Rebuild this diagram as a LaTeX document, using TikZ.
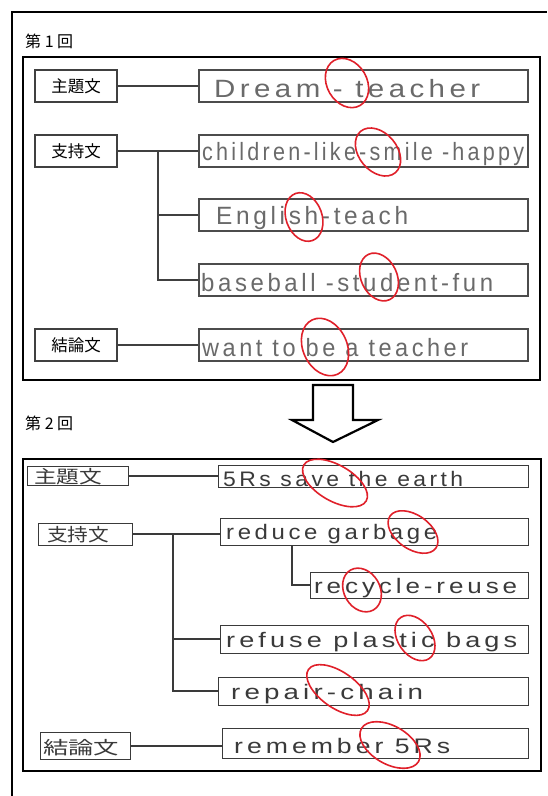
\documentclass[tikz,border=0pt]{standalone}
\usepackage{fontspec}
\usepackage{graphicx}
\newfontfamily\jp{Noto Sans CJK JP}
\newfontfamily\hand[LetterSpace=15]{Liberation Sans}
\newcommand\hw[2]{\resizebox{#1}{\height}{#2}}
\definecolor{penred}{HTML}{E0202A}
\definecolor{pencil}{HTML}{6A6A6A}
\definecolor{pen}{HTML}{3A3A3A}
\tikzset{
  frame/.style={draw=black,line width=2.6pt},
  labbox/.style={draw=black!75,line width=1.2pt,minimum width=82pt,minimum height=32pt,inner sep=0pt,font=\jp\fontsize{16.5}{16.5}\selectfont},
  conbox/.style={draw=black!70,line width=1.2pt,minimum width=329pt,minimum height=32pt,inner sep=0pt},
  hbox/.style={draw=pen,line width=1pt,inner sep=0pt},
  htext1/.style={anchor=west,inner sep=0pt,text=pencil,font=\hand\fontsize{25}{25}\selectfont},
  htext2/.style={anchor=west,inner sep=0pt,text=pen,font=\hand\fontsize{21}{21}\selectfont},
  hlab/.style={anchor=west,inner sep=0pt,text=pen,font=\jp\fontsize{18}{18}\selectfont},
  conn/.style={draw=black!75,line width=1.2pt},
  hconn/.style={draw=pen,line width=1.1pt},
  ring/.style={draw=penred,line width=1.6pt},
  heading/.style={anchor=west,inner sep=0pt,font=\jp\fontsize{16}{16}\selectfont}
}
\begin{document}
\begin{tikzpicture}[x=1pt,y=-1pt]
\useasboundingbox (0,0) rectangle (547,796);
\fill[white] (0,0) rectangle (547,796);
% outer frame (cut off)
\draw[line width=2.4pt] (12,796) -- (12,12) -- (547,12);
% ---------- first map ----------
\node[heading] (t1) at (25,41) {第 1 回};
\draw[frame] (23,57) rectangle (540,380);
\node[labbox] (l1) at (76,86) {主題文};
\node[labbox] (l2) at (76,151) {支持文};
\node[labbox] (l3) at (76,345) {結論文};
\node[conbox] (c1) at (363.5,86) {};
\node[conbox] (c2) at (363.5,151) {};
\node[conbox] (c3) at (363.5,215) {};
\node[conbox] (c4) at (363.5,280) {};
\node[conbox] (c5) at (363.5,345) {};
\node[htext1] (x1) at (214,89) {\hw{266pt}{Dream - teacher}};
\node[htext1] (x2) at (202,154) {\hw{322pt}{children-like-smile -happy}};
\node[htext1] (x3) at (216,218) {\hw{192pt}{English-teach}};
\node[htext1] (x4) at (201,283) {\hw{292pt}{baseball -student-fun}};
\node[htext1] (x5) at (202,348) {\hw{266pt}{want to be a teacher}};
\draw[conn] (l1.east) -- (c1.west);
\draw[conn] (l2.east) -- (c2.west);
\draw[conn] (l3.east) -- (c5.west);
\coordinate (b1) at (158,151);
\draw[conn] (b1) |- (c3.west);
\draw[conn] (b1) |- (c4.west);
% red rings
\draw[ring,rotate around={30:(347,83)}] (347,83) ellipse [x radius=20,y radius=26];
\draw[ring,rotate around={40:(378,152)}] (378,152) ellipse [x radius=19,y radius=27];
\draw[ring,rotate around={20:(304,217)}] (304,217) ellipse [x radius=18,y radius=25];
\draw[ring,rotate around={25:(379,277)}] (379,277) ellipse [x radius=18,y radius=25];
\draw[ring,rotate around={25:(325,347)}] (325,347) ellipse [x radius=22,y radius=30];
% ---------- arrow ----------
\node[heading] (t2) at (25,423) {第 2 回};
\draw[line width=2.2pt,fill=white,line join=miter] (313,385) -- (353,385) -- (353,420) -- (378,420) -- (333,442) -- (292,420) -- (313,420) -- cycle;
% ---------- second map ----------
\draw[frame] (23,459) rectangle (541,771);
\node[hbox,minimum width=101pt,minimum height=19pt] (m1) at (77.5,476) {};
\node[hbox,minimum width=94pt,minimum height=22pt] (m2) at (85,534) {};
\node[hbox,minimum width=90pt,minimum height=27pt] (m3) at (85,746) {};
\node[hlab] (y1) at (34,477) {\hw{68pt}{主題文}};
\node[hlab] (y2) at (47,535) {\hw{62pt}{支持文}};
\node[hlab] (y3) at (43,748) {\hw{76pt}{結論文}};
\node[hbox,minimum width=310pt,minimum height=22pt] (d1) at (373,476) {};
\node[hbox,minimum width=308pt,minimum height=27pt] (d2) at (374,531.5) {};
\node[hbox,minimum width=218pt,minimum height=26pt] (d3) at (419,585) {};
\node[hbox,minimum width=308pt,minimum height=28pt] (d4) at (374,639) {};
\node[hbox,minimum width=310pt,minimum height=28pt] (d5) at (373,691) {};
\node[hbox,minimum width=306pt,minimum height=30pt] (d6) at (375,743) {};
\node[htext2] (z1) at (223,479) {\hw{240pt}{5Rs save the earth}};
\node[htext2] (z2) at (226,534) {\hw{211pt}{reduce garbage}};
\node[htext2] (z3) at (314,588) {\hw{203pt}{recycle-reuse}};
\node[htext2] (z4) at (226,642) {\hw{291pt}{refuse plastic bags}};
\node[htext2] (z5) at (231,694) {\hw{192pt}{repair-chain}};
\node[htext2] (z6) at (234,746) {\hw{216pt}{remember 5Rs}};
\draw[hconn] (m1.east) -- (m1.east -| d1.west);
\draw[hconn] (m2.east) -- (m2.east -| d2.west);
\draw[hconn] (m3.east) -- (m3.east -| d6.west);
\coordinate (b2) at (173,534);
\draw[hconn] (b2) |- (d4.west);
\draw[hconn] (b2) |- (d5.west);
\coordinate (b3) at (292,545);
\draw[hconn] (b3) |- (d3.west);
% red rings
\draw[ring,rotate around={-30:(335,483)}] (335,483) ellipse [x radius=36,y radius=18];
\draw[ring,rotate around={-35:(413,532)}] (413,532) ellipse [x radius=28,y radius=17];
\draw[ring,rotate around={30:(362,590)}] (362,590) ellipse [x radius=18,y radius=23];
\draw[ring,rotate around={35:(415,638)}] (415,638) ellipse [x radius=17,y radius=25];
\draw[ring,rotate around={-35:(338,690)}] (338,690) ellipse [x radius=36,y radius=18];
\draw[ring,rotate around={-30:(390,745)}] (390,745) ellipse [x radius=33,y radius=19];
\end{tikzpicture}
\end{document}
